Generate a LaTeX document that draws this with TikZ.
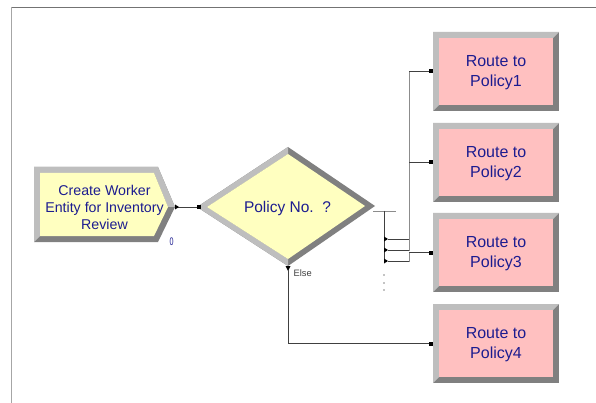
\documentclass[tikz,border=0pt]{standalone}
\usepackage{fontspec}
\setmainfont{Liberation Sans}
\definecolor{bevlight}{HTML}{BEBEBE}
\definecolor{bevdark}{HTML}{808080}
\definecolor{pinkfill}{HTML}{FFC0C0}
\definecolor{yellowfill}{HTML}{FFFFC0}
\definecolor{modtext}{HTML}{1C1C90}
\definecolor{wire}{HTML}{404040}
\definecolor{wiregray}{HTML}{8C8C8C}
\tikzset{
  modlabel/.style={align=center, text=modtext, inner sep=0pt},
  conn/.style={draw=wire, line width=0.8pt},
  connlight/.style={draw=wiregray, line width=0.8pt},
  portsq/.style={fill=black},
}
% bevelled "Route to" module: name, left x, top y, text
\newcommand{\routemodule}[4]{%
  \fill[bevdark] (#2,#3) rectangle ++(126,79);
  \fill[bevlight] (#2,#3+79) -- (#2,#3) -- (#2+126,#3) -- (#2+120,#3+6)
        -- (#2+6,#3+6) -- (#2+6,#3+73) -- cycle;
  \fill[pinkfill] (#2+6,#3+6) rectangle (#2+120,#3+73);
  \node[modlabel, font=\fontsize{16}{20}\selectfont] (#1) at (#2+63,#3+40.5) {#4};
  \coordinate (#1in) at (#2-2,#3+39.5);
}
\newcommand{\portbox}[1]{\fill[portsq] ($(#1)+(-2,-2)$) rectangle ($(#1)+(2,2)$);}
\usetikzlibrary{calc}
\begin{document}
\begin{tikzpicture}[x=1pt,y=-1pt]
\useasboundingbox (0,0) rectangle (596,403);
\fill[white] (0,0) rectangle (596,403);

% window frame
\draw[draw=black!55, line width=0.9pt] (11,7) -- (596,7);
\draw[draw=black!35, line width=0.9pt] (11,7) -- (11,403);

% Create module
\fill[bevdark] (34,167) -- (158,167) -- (175,207) -- (158,242) -- (34,242) -- cycle;
\fill[bevlight] (34,242) -- (34,167) -- (158,167) -- (175,207) -- (168,207)
      -- (154,173) -- (40,173) -- (40,236) -- cycle;
\fill[yellowfill] (40,173) -- (154,173) -- (168,207) -- (154,236) -- (40,236) -- cycle;
\node[modlabel, font=\fontsize{14.2}{16.7}\selectfont] (create) at (104.5,207.5)
  {Create Worker\\Entity for Inventory\\Review};
\node[text=modtext, font=\fontsize{11}{11}\selectfont, xscale=0.65, inner sep=0pt]
  (count) at (171.5,241.5) {0};
\coordinate (createout) at (176,207);

% Decide module
\coordinate (dL) at (197,207);
\coordinate (dT) at (288,147);
\coordinate (dR) at (375,206);
\coordinate (dB) at (288,266);
\fill[bevdark] (dL) -- (dT) -- (dR) -- (dB) -- cycle;
\fill[bevlight] (dT) -- (dL) -- (dB) -- (288,259) -- (207,207) -- (288,154) -- cycle;
\fill[yellowfill] (207,207) -- (288,154) -- (365,206) -- (288,259) -- cycle;
\node[modlabel, font=\fontsize{15.5}{20}\selectfont] (decide) at (287.5,208) {Policy No.\ \ ?};
\coordinate (decidein) at (199,207);
\node[font=\fontsize{9.3}{10}\selectfont, text=black!75, anchor=west, inner sep=0pt]
  (elselbl) at (293.5,273) {Else};

% Route modules
\routemodule{route1}{433}{32}{Route to\\Policy1}
\routemodule{route2}{433}{123}{Route to\\Policy2}
\routemodule{route3}{433}{213}{Route to\\Policy3}
\routemodule{route4}{433}{304}{Route to\\Policy4}

% Decide exit bar and condition exits
\coordinate (barL) at (373,211);
\coordinate (barR) at (396,211);
\coordinate (barB) at (384,262);
\coordinate (ex1) at (388,239);
\coordinate (ex2) at (388,250);
\coordinate (ex3) at (388,261);
\coordinate (exelse) at (288,270);
\draw[connlight] (barL) -- (barR);
\draw[conn] (384,211) -- (barB);
\foreach \e in {ex1,ex2,ex3}{
  \fill[black] ($(\e)+(-4,-2.5)$) -- ($(\e)+(0,0)$) -- ($(\e)+(-4,2.5)$) -- cycle;
}
\foreach \yy in {275,283,290}{\fill[black] (384,\yy) circle (0.7);}

% connectors
\draw[conn] (createout) -- (decidein);
\fill[black] (175,204.5) -- (179,207) -- (175,209.5) -- cycle;
\portbox{decidein}
\draw[connlight] (ex1) -- ++(21,0) |- (route1in);
\draw[connlight] (ex2) -- ++(21,0) |- (route2in);
\draw[connlight] (ex3) -- ++(21,0) |- (route3in);
\draw[conn] (ex1) -- ++(21,0);
\draw[conn] (ex2) -- ++(21,0);
\draw[conn] (ex3) -- ++(21,0);
\draw[conn] (409,71.5) -- (route1in);
\draw[conn] (409,162.5) -- (route2in);
\draw[conn] (409,252.5) -- (route3in);
\fill[black] (285.5,266) -- (290.5,266) -- (288,271) -- cycle;
\draw[conn] (exelse) |- (route4in);
\portbox{route1in}
\portbox{route2in}
\portbox{route3in}
\portbox{route4in}
\end{tikzpicture}
\end{document}
